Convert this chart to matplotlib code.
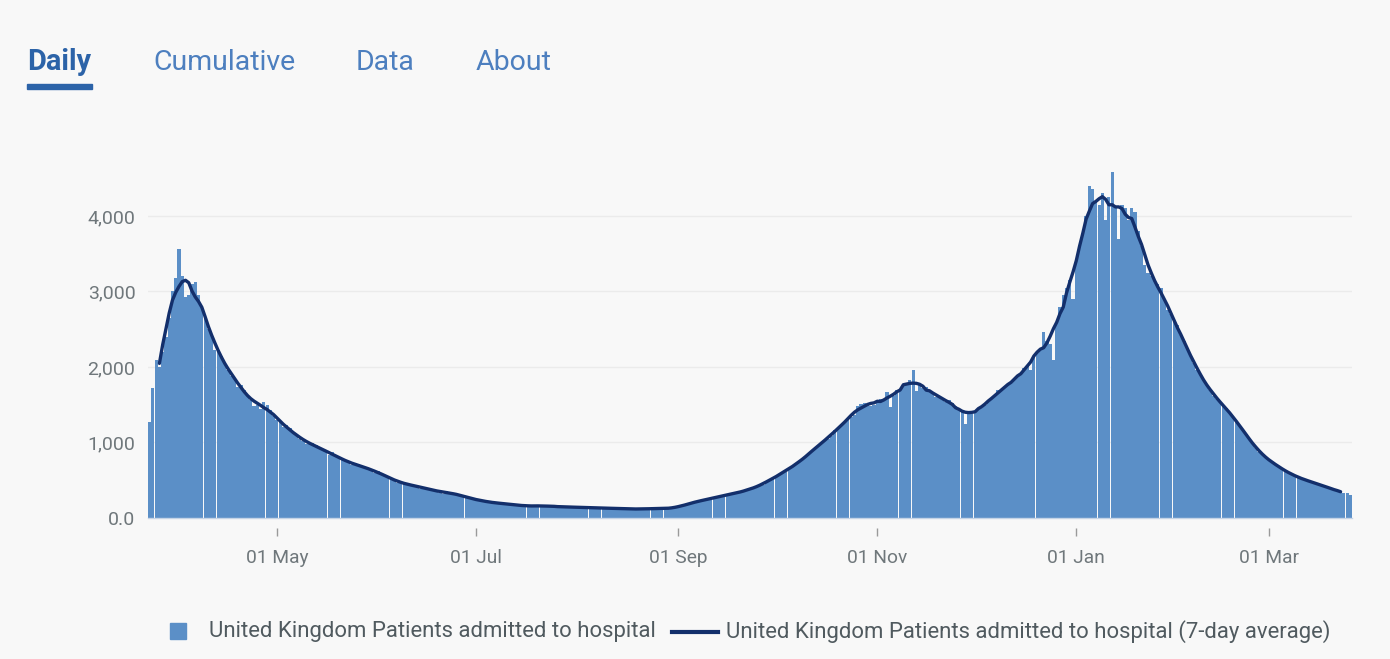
import numpy as np
import pandas as pd
import matplotlib
matplotlib.use("Agg")
import matplotlib.pyplot as plt
import matplotlib.dates as mdates
from matplotlib.patches import Rectangle
from matplotlib.lines import Line2D

# daily admissions, UK, one row per week (starting Monday 23 Mar 2020)
start_date = "2020-03-23"
daily = [
    1270, 1720, 2090, 2000, 2200, 2400, 2650,
    3000, 3180, 3560, 3200, 2920, 2950, 3100,
    3120, 2950, 2790, 2650, 2500, 2420, 2230,
    2210, 2150, 2060, 1960, 1880, 1850, 1730,
    1760, 1690, 1630, 1560, 1480, 1500, 1440,
    1530, 1500, 1430, 1350, 1300, 1270, 1200,
    1230, 1190, 1140, 1090, 1050, 1020, 980,
    1010, 990, 960, 925, 900, 870, 840,
    870, 840, 810, 770, 750, 725, 700,
    730, 715, 690, 665, 645, 630, 600,
    625, 600, 570, 540, 515, 490, 460,
    480, 470, 455, 435, 420, 410, 390,
    415, 400, 385, 365, 350, 335, 320,
    355, 345, 335, 315, 300, 280, 260,
    275, 262, 250, 235, 222, 210, 198,
    215, 208, 200, 192, 184, 178, 170,
    182, 176, 168, 160, 154, 150, 152,
    168, 165, 175, 158, 150, 145, 140,
    158, 154, 150, 146, 140, 136, 132,
    146, 144, 140, 136, 132, 128, 124,
    138, 135, 130, 127, 122, 118, 115,
    128, 124, 120, 118, 116, 115, 118,
    132, 130, 128, 125, 122, 120, 124,
    138, 150, 162, 175, 185, 195, 200,
    225, 235, 245, 250, 255, 262, 270,
    292, 300, 310, 312, 318, 330, 340,
    362, 372, 380, 395, 412, 428, 440,
    480, 505, 530, 552, 575, 590, 610,
    665, 690, 705, 740, 778, 805, 830,
    890, 935, 970, 1000, 1030, 1050, 1080,
    1160, 1200, 1240, 1270, 1310, 1340, 1370,
    1480, 1510, 1520, 1490, 1480, 1500, 1540,
    1580, 1560, 1670, 1470, 1620, 1690, 1700,
    1760, 1790, 1830, 1960, 1680, 1760, 1720,
    1740, 1700, 1650, 1600, 1620, 1560, 1540,
    1560, 1520, 1480, 1440, 1430, 1250, 1400,
    1380, 1420, 1450, 1460, 1490, 1540, 1580,
    1620, 1700, 1690, 1720, 1760, 1790, 1830,
    1880, 1900, 1990, 2020, 1960, 2150, 2180,
    2250, 2460, 2350, 2300, 2090, 2600, 2800,
    2950, 3050, 3150, 2900, 3400, 3600, 3750,
    4000, 4390, 4350, 4200, 4150, 4300, 3950,
    4250, 4580, 4100, 3700, 4150, 4100, 3950,
    4100, 4050, 3800, 3600, 3350, 3250, 3200,
    3150, 3100, 3050, 2900, 2750, 2700, 2600,
    2560, 2420, 2350, 2250, 2150, 2050, 1960,
    1890, 1830, 1760, 1690, 1620, 1580, 1540,
    1500, 1450, 1400, 1350, 1280, 1230, 1160,
    1110, 1050, 990, 930, 870, 830, 800,
    770, 740, 710, 680, 650, 620, 600,
    575, 555, 540, 525, 505, 490, 475,
    465, 450, 440, 420, 405, 395, 375,
    355, 345, 335, 330, 300,
]

tabs = ["Daily", "Cumulative", "Data", "About"]
tab_x = [27, 153, 356, 476]
x_ticks = ["2020-05-01", "2020-07-01", "2020-09-01", "2020-11-01", "2021-01-01", "2021-03-01"]
y_ticks = [0, 1000, 2000, 3000, 4000]
y_labels = ["0.0", "1,000", "2,000", "3,000", "4,000"]
bar_label = "United Kingdom Patients admitted to hospital"
line_label = "United Kingdom Patients admitted to hospital (7-day average)"

BG = "#f8f8f8"
BAR = "#5b8fc7"
LINE = "#132f6b"
BLUE = "#2c63a8"
GREY = "#6f777b"

plt.rcParams["font.family"] = ["Roboto", "DejaVu Sans"]

W, H = 1390, 659
fig = plt.figure(figsize=(W / 100, H / 100), dpi=100, facecolor=BG)
ax = fig.add_axes([148 / W, 1 - 518 / H, (1352 - 148) / W, (518 - 163) / H])
ax.set_facecolor(BG)

dates = pd.date_range(start_date, periods=len(daily), freq="D")
s = pd.Series(daily, index=dates)
avg = s.rolling(7, center=True).mean()

ax.bar(dates, s.values, width=0.97, color=BAR, linewidth=0, zorder=2)
ax.plot(dates, avg.values, color=LINE, linewidth=2.4, zorder=3, solid_capstyle="round")

ax.set_xlim(dates[0] - pd.Timedelta(hours=12), dates[-1] + pd.Timedelta(hours=12))
ax.set_ylim(0, 4700)

ax.set_xticks([pd.Timestamp(d) for d in x_ticks])
ax.xaxis.set_major_formatter(mdates.DateFormatter("%d %b"))
ax.set_yticks(y_ticks)
ax.set_yticklabels(y_labels)

for v in y_ticks[1:]:
    ax.axhline(v, color="#ebebeb", linewidth=1, zorder=1)

for sp in ax.spines.values():
    sp.set_visible(False)
ax.spines["bottom"].set_visible(True)
ax.spines["bottom"].set_color("#c5d4e6")
ax.spines["bottom"].set_linewidth(1)

ax.tick_params(axis="x", colors="#9a9a9a", length=6, width=1, pad=16,
               labelsize=13.8, labelcolor=GREY, direction="out")
ax.tick_params(axis="y", length=0, pad=9, labelsize=14, labelcolor=GREY)
# ticks sit a little below the base line
for t in ax.xaxis.get_major_ticks():
    t.tick1line.set_transform(t.tick1line.get_transform() + matplotlib.transforms.ScaledTranslation(0, -10 / 100, fig.dpi_scale_trans))

# tabs along the top
for i, (name, x) in enumerate(zip(tabs, tab_x)):
    fig.text(x / W, 1 - 62 / H, name, fontsize=20.5 if i else 20.8, color=BLUE if i == 0 else "#4d7fbf",
             fontweight="bold" if i == 0 else "normal", va="center", ha="left")
fig.patches.append(Rectangle((27 / W, 1 - 89 / H), 65 / W, 5 / H, transform=fig.transFigure,
                             color=BLUE, figure=fig))

# legend
ly = 1 - 632 / H
fig.patches.append(Rectangle((170 / W, 1 - 639 / H), 16 / W, 16 / H, transform=fig.transFigure,
                             color=BAR, figure=fig))
fig.text(209 / W, ly, bar_label, fontsize=15.9, color="#505a5f", va="center", ha="left")
fig.lines.append(Line2D([672 / W, 718 / W], [ly, ly], transform=fig.transFigure,
                        color=LINE, linewidth=3, figure=fig))
fig.text(726 / W, ly, line_label, fontsize=15.9, color="#505a5f", va="center", ha="left")

fig.savefig("out.png", dpi=100, facecolor=BG)
